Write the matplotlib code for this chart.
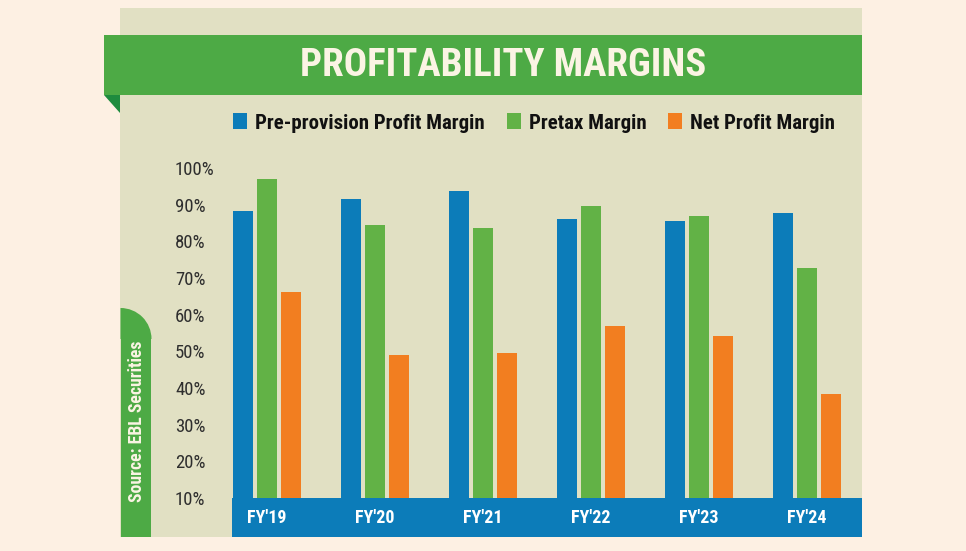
import matplotlib
matplotlib.use("Agg")
import matplotlib.pyplot as plt
from matplotlib import font_manager as fm
from matplotlib.patches import Rectangle, Polygon, Wedge
import numpy as np

# ---------------- data ----------------
categories = ["FY'19", "FY'20", "FY'21", "FY'22", "FY'23", "FY'24"]
series_names = ["Pre-provision Profit Margin", "Pretax Margin", "Net Profit Margin"]
preprovision = [88.3, 91.5, 93.8, 86.0, 85.5, 87.8]
pretax = [97.0, 84.4, 83.6, 89.6, 87.0, 72.6]
net_profit = [66.1, 49.1, 49.6, 57.0, 54.2, 38.4]
y_ticks = [10, 20, 30, 40, 50, 60, 70, 80, 90, 100]
y_tick_labels = ["10%", "20%", "30%", "40%", "50%", "60%", "70%", "80%", "90%", "100%"]
title = "PROFITABILITY MARGINS"
source = "Source: EBL Securities"

# ---------------- fonts ----------------
def _w(f):
    w = f.weight
    if isinstance(w, str):
        w = fm.weight_dict.get(w, 400)
    return w

def _prio(name):
    order = ["Roboto", "Open Sans", "Noto Sans", "Liberation", "DejaVu", "Lato", "Inter"]
    for i, o in enumerate(order):
        if name.startswith(o):
            return i
    return 99

def pick(target):
    cands = []
    for f in fm.fontManager.ttflist:
        st = str(f.stretch)
        if (st in ("condensed", "semi-condensed", "extra-condensed", "ultra-condensed")
                or "Narrow" in f.name or "Condensed" in f.name):
            if f.style != "normal":
                continue
            cands.append((_prio(f.name), abs(_w(f) - target), f.fname))
    if cands:
        cands.sort()
        return fm.FontProperties(fname=cands[0][2])
    return fm.FontProperties(family="DejaVu Sans", weight="bold" if target >= 600 else "normal")

fp_bold = pick(700)
fp_reg = pick(400)

# ---------------- colors ----------------
C_BG = "#FDF0E3"
C_PANEL = "#E1E0C3"
C_BANNER = "#4DAA45"
C_FOLD = "#1E8B3E"
C_BLUE = "#0C7CB9"
C_GREEN = "#62B246"
C_ORANGE = "#F27E20"
C_TEXT = "#2E2E2E"
C_CREAM = "#FBF4E4"

W, H = 966, 551
fig = plt.figure(figsize=(W / 100, H / 100), dpi=100, facecolor=C_BG)

# decoration layer in pixel coordinates
bg = fig.add_axes([0, 0, 1, 1], zorder=0)
bg.set_xlim(0, W)
bg.set_ylim(H, 0)
bg.axis("off")
bg.add_patch(Rectangle((120, 7.5), 742, 529.5, facecolor=C_PANEL, edgecolor="none"))
bg.add_patch(Rectangle((104, 35), 758, 60, facecolor=C_BANNER, edgecolor="none"))
bg.add_patch(Polygon([(104, 95), (120, 95), (120, 113)], closed=True, facecolor=C_FOLD, edgecolor="none"))
# source tab (square top-left, rounded top-right)
bg.add_patch(Rectangle((120.5, 339), 30.5, 198, facecolor=C_BANNER, edgecolor="none"))
bg.add_patch(Wedge((120.5, 339), 31, 270, 360, facecolor=C_BANNER, edgecolor="none"))
# category band
bg.add_patch(Rectangle((232, 498), 630, 39, facecolor=C_BLUE, edgecolor="none"))

bg.text(503, 66, title, ha="center", va="center", color=C_CREAM,
        fontproperties=fp_bold, fontsize=28)
bg.text(137, 421, source, ha="center", va="center", rotation=90, color=C_CREAM,
        fontproperties=fp_bold, fontsize=12.8)

# ---------------- chart axes ----------------
px_left, px_right = 232, 862
px_bottom, px_top = 498, 149.6
ax = fig.add_axes([px_left / W, 1 - px_bottom / H, (px_right - px_left) / W, (px_bottom - px_top) / H],
                  zorder=2)
ax.patch.set_alpha(0)
ax.set_xlim(-0.324, 5.509)
ax.set_ylim(10, 105)

x = np.arange(len(categories))
bw = 20.5 / 108
off = 24 / 108
b1 = ax.bar(x - off, preprovision, bw, color=C_BLUE, label=series_names[0])
b2 = ax.bar(x, pretax, bw, color=C_GREEN, label=series_names[1])
b3 = ax.bar(x + off, net_profit, bw, color=C_ORANGE, label=series_names[2])

for s in ax.spines.values():
    s.set_visible(False)

ax.set_yticks(y_ticks)
ax.set_yticklabels(y_tick_labels)
ax.tick_params(axis="y", length=0, pad=41, labelcolor=C_TEXT)
for t in ax.get_yticklabels():
    t.set_ha("left")
    t.set_fontproperties(fp_reg)
    t.set_fontsize(13.5)

ax.set_xticks(x)
ax.set_xticklabels(categories)
ax.tick_params(axis="x", length=0, pad=14.4, labelcolor="white")
for t in ax.get_xticklabels():
    t.set_va("center")
    t.set_fontproperties(fp_bold)
    t.set_fontsize(13)

leg_fp = fp_bold.copy()
leg_fp.set_size(15)
fs_px = 15 * 100 / 72
leg = fig.legend(handles=[b1, b2, b3], labels=series_names, loc="center left",
                 bbox_to_anchor=(233 / W, 1 - 123 / H), ncol=3, frameon=False,
                 prop=leg_fp, borderaxespad=0, borderpad=0,
                 handlelength=14 / fs_px, handleheight=16 / fs_px,
                 handletextpad=8 / fs_px, columnspacing=22 / fs_px)
for t in leg.get_texts():
    t.set_color("#111111")

fig.savefig("out.png", dpi=100, facecolor=C_BG)
